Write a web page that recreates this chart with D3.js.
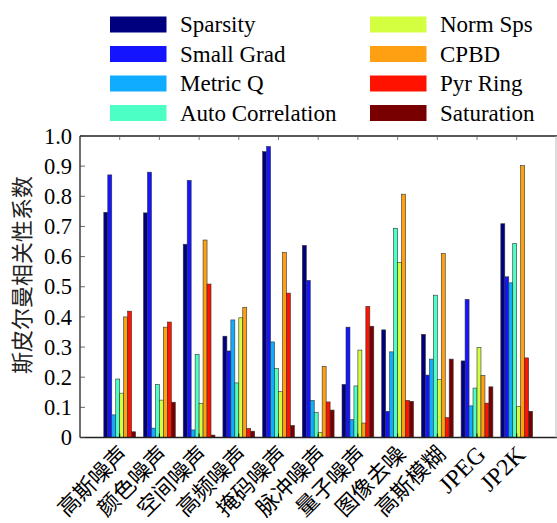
<!DOCTYPE html>
<html>
<head>
<meta charset="utf-8">
<script src="https://cdn.jsdelivr.net/npm/d3@7"></script>
<style>
  html, body { margin: 0; padding: 0; background: #fff; }
  svg { display: block; }
</style>
</head>
<body>
<svg id="chart" width="557" height="523"></svg>
<script>
// categories on the x axis
var categories = ["高斯噪声", "颜色噪声", "空间噪声", "高频噪声", "掩码噪声", "脉冲噪声",
  "量子噪声", "图像去噪", "高斯模糊", "JPEG", "JP2K"];

var seriesNames = ["Sparsity", "Small Grad", "Metric Q", "Auto Correlation",
  "Norm Sps", "CPBD", "Pyr Ring", "Saturation"];

var seriesColors = ["#00007f", "#1414ff", "#10acff", "#4cffc4",
  "#d4ff40", "#ffa012", "#ff1200", "#780000"];

// one array per series, one value per category
var sparsity    = [0.747, 0.745, 0.641, 0.336, 0.948, 0.637, 0.176, 0.357, 0.342, 0.254, 0.709];
var smallGrad   = [0.871, 0.880, 0.853, 0.287, 0.965, 0.521, 0.366, 0.087, 0.207, 0.458, 0.533];
var metricQ     = [0.075, 0.031, 0.025, 0.390, 0.317, 0.123, 0.059, 0.284, 0.260, 0.105, 0.513];
var autoCorr    = [0.194, 0.176, 0.276, 0.181, 0.229, 0.083, 0.171, 0.694, 0.472, 0.164, 0.644];
var normSps     = [0.147, 0.124, 0.113, 0.397, 0.152, 0.016, 0.290, 0.581, 0.192, 0.299, 0.103];
var cpbd        = [0.400, 0.366, 0.655, 0.432, 0.614, 0.236, 0.048, 0.807, 0.610, 0.206, 0.902];
var pyrRing     = [0.419, 0.383, 0.509, 0.030, 0.479, 0.118, 0.435, 0.123, 0.066, 0.114, 0.264];
var saturation  = [0.019, 0.117, 0.008, 0.021, 0.040, 0.091, 0.369, 0.120, 0.260, 0.168, 0.087];

var seriesValues = [sparsity, smallGrad, metricQ, autoCorr, normSps, cpbd, pyrRing, saturation];

var yTicks = [0, 0.1, 0.2, 0.3, 0.4, 0.5, 0.6, 0.7, 0.8, 0.9, 1.0];
var yTitle = "斯皮尔曼相关性系数";

var svg = d3.select("#chart");
var serif = "'Liberation Serif', 'Times New Roman', serif";
var cjk = "'Noto Sans CJK SC', 'Noto Sans CJK JP', sans-serif";

var plot = { left: 80, right: 556.4, top: 136, bottom: 437.5 };

var y = d3.scaleLinear().domain([0, 1]).range([plot.bottom, plot.top]);
var x0 = d3.scaleBand().domain(categories).range([plot.left, plot.right])
  .paddingInner(0.2).paddingOuter(0.6);
var x1 = d3.scaleBand().domain(seriesNames).range([0, x0.bandwidth()]);

// bars
var rows = [];
categories.forEach(function (c, i) {
  seriesNames.forEach(function (s, j) {
    rows.push({ cat: c, series: s, idx: j, value: seriesValues[j][i] });
  });
});

svg.append("g").selectAll("rect")
  .data(rows)
  .enter().append("rect")
  .attr("x", function (d) { return x0(d.cat) + x1(d.series); })
  .attr("y", function (d) { return y(d.value); })
  .attr("width", x1.bandwidth())
  .attr("height", function (d) { return y(0) - y(d.value); })
  .attr("fill", function (d) { return seriesColors[d.idx]; })
  .attr("stroke", "#333")
  .attr("stroke-width", 0.6);

// frame
var frame = svg.append("g").attr("stroke", "#222").attr("stroke-width", 1.3);
frame.append("line").attr("x1", plot.left).attr("x2", 557).attr("y1", plot.top).attr("y2", plot.top);
frame.append("line").attr("x1", plot.left).attr("x2", 557).attr("y1", plot.bottom).attr("y2", plot.bottom);
frame.append("line").attr("x1", plot.left).attr("x2", plot.left).attr("y1", plot.top).attr("y2", plot.bottom);
svg.append("line").attr("x1", 556).attr("x2", 556).attr("y1", plot.top).attr("y2", plot.bottom)
  .attr("stroke", "#bbb").attr("stroke-width", 1);

// y axis: inward ticks, labels on the left
var yAxis = svg.append("g");
yAxis.selectAll("line.tick")
  .data(yTicks)
  .enter().append("line")
  .attr("x1", plot.left).attr("x2", plot.left + 5)
  .attr("y1", function (d) { return y(d); }).attr("y2", function (d) { return y(d); })
  .attr("stroke", "#444").attr("stroke-width", 0.8);
yAxis.selectAll("text")
  .data(yTicks)
  .enter().append("text")
  .attr("x", 72)
  .attr("y", function (d) { return y(d); })
  .attr("dy", "0.34em")
  .attr("text-anchor", "end")
  .attr("font-family", serif)
  .attr("font-size", 22.5)
  .text(function (d) { return d === 0 ? "0" : d.toFixed(1); });

// x ticks on top (down) and bottom (up)
var xTickG = svg.append("g");
categories.forEach(function (c) {
  var cx = x0(c) + x0.bandwidth() / 2;
  xTickG.append("line").attr("x1", cx).attr("x2", cx)
    .attr("y1", plot.top).attr("y2", plot.top + 4)
    .attr("stroke", "#555").attr("stroke-width", 0.8);
  xTickG.append("line").attr("x1", cx).attr("x2", cx)
    .attr("y1", plot.bottom).attr("y2", plot.bottom - 4)
    .attr("stroke", "#000").attr("stroke-width", 0.9);
});

// x labels, rotated
svg.append("g").selectAll("text")
  .data(categories)
  .enter().append("text")
  .attr("transform", function (d) {
    var cx = x0(d) + x0.bandwidth() / 2;
    return "translate(" + [cx + 4, 450] + ") rotate(-45)";
  })
  .attr("text-anchor", "end")
  .attr("dy", "0.35em")
  .attr("font-family", function (d) { return /^[A-Z0-9]+$/.test(d) ? serif : cjk; })
  .attr("font-size", function (d) { return /^[A-Z0-9]+$/.test(d) ? 24 : 22; })
  .text(function (d) { return d; });

// y title
svg.append("text")
  .attr("transform", "translate(22,275) rotate(-90)")
  .attr("text-anchor", "middle")
  .attr("dy", "0.35em")
  .attr("font-family", cjk)
  .attr("font-size", 22)
  .attr("fill", "#222")
  .text(yTitle);

// legend, two columns of four
var legend = svg.append("g");
seriesNames.forEach(function (s, j) {
  var col = Math.floor(j / 4), row = j % 4;
  var sx = col === 0 ? 110 : 370;
  var cy = 24.5 + row * 29.5;
  legend.append("rect")
    .attr("x", sx).attr("y", cy - 8)
    .attr("width", 56.5).attr("height", 16)
    .attr("fill", seriesColors[j]);
  legend.append("text")
    .attr("x", sx + 70)
    .attr("y", cy + 7.5)
    .attr("font-family", serif)
    .attr("font-size", 23)
    .text(s);
});
</script>
</body>
</html>
